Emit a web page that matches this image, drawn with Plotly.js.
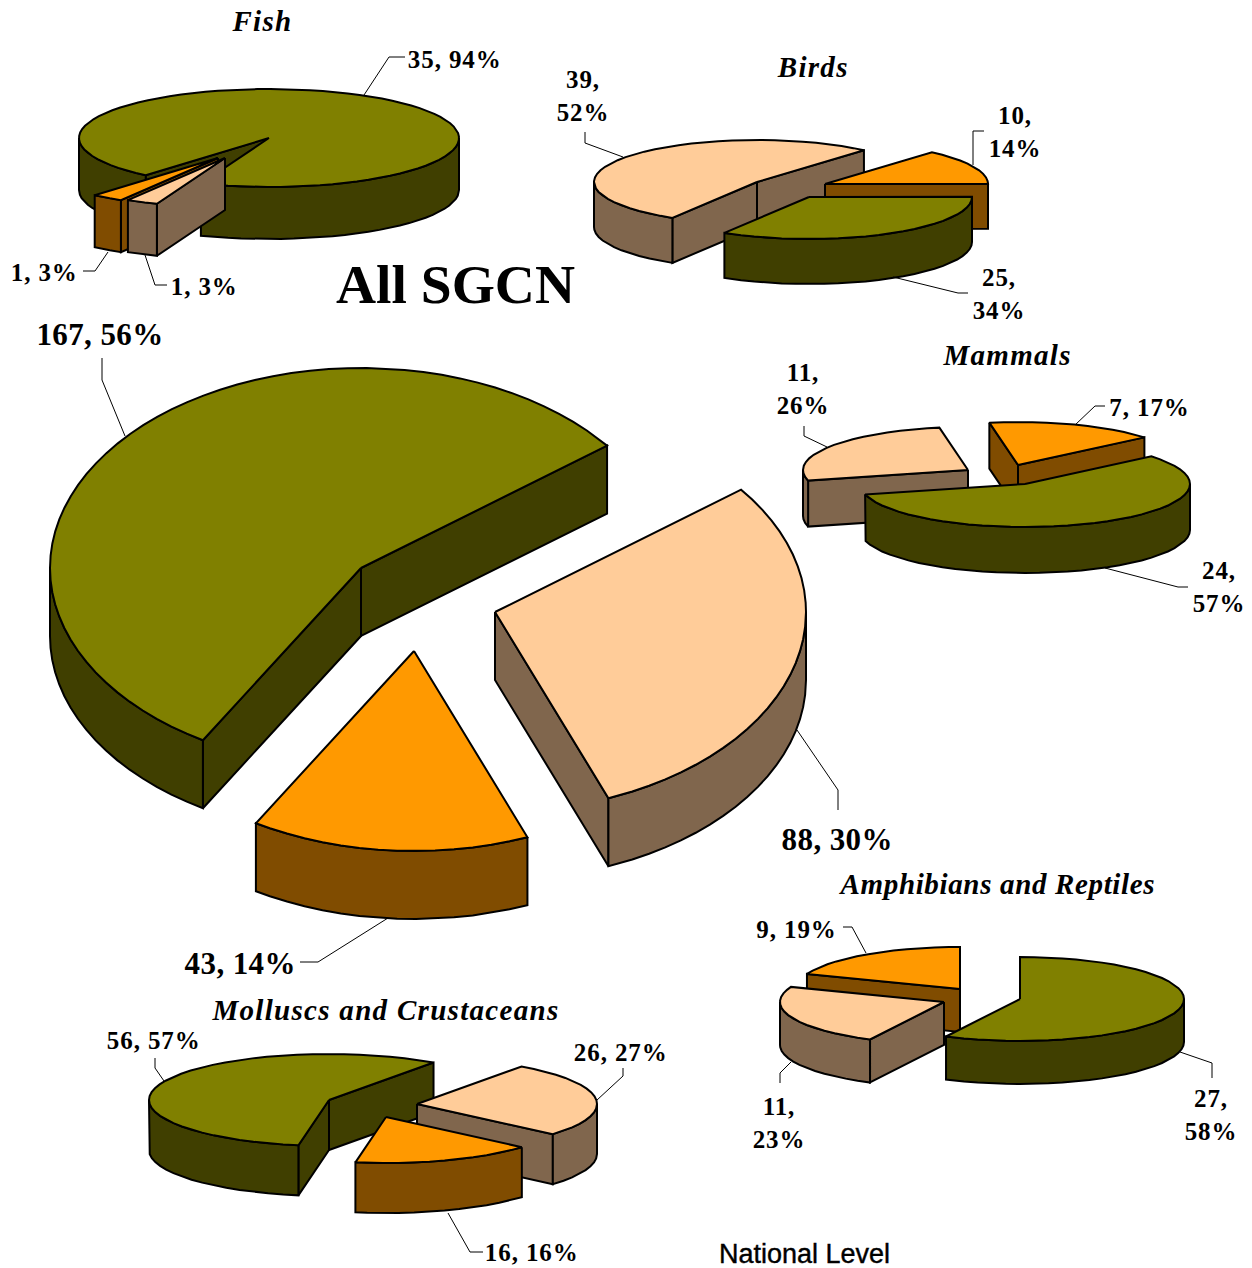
<!DOCTYPE html>
<html>
<head>
<meta charset="utf-8">
<script src="https://cdn.plot.ly/plotly-3.0.1.min.js"></script>
<style>
html,body{margin:0;padding:0;background:#fff}
#chart{width:1252px;height:1268px}
</style>
</head>
<body>
<div id="chart"></div>
<script>
// ---- values, clockwise from each pie's start angle ----
const allKinds = ["peach", "orange", "olive"];
const allValues = [88, 43, 167];
const allPercents = [30, 14, 56];
const fishKinds = ["peach", "orange", "olive"];
const fishValues = [1, 1, 35];
const fishPercents = [3, 3, 94];
const birdKinds = ["orange", "olive", "peach"];
const birdValues = [10, 25, 39];
const birdPercents = [14, 34, 52];
const mammalKinds = ["orange", "olive", "peach"];
const mammalValues = [7, 24, 11];
const mammalPercents = [17, 57, 26];
const amphibianKinds = ["olive", "peach", "orange"];
const amphibianValues = [27, 11, 9];
const amphibianPercents = [58, 23, 19];
const molluscKinds = ["peach", "orange", "olive"];
const molluscValues = [26, 16, 56];
const molluscPercents = [27, 16, 57];

const pieTitles = ["Fish", "Birds", "Mammals", "Amphibians and Reptiles", "Molluscs and Crustaceans"];

// ---- styling and geometry ----
const topColor = {olive:"#808000", orange:"#FF9900", peach:"#FFCC99"};
const sideColor = {olive:"#403F00", orange:"#804C00", peach:"#80664D"};

const pies = [
 {kinds:allKinds, values:allValues, start:37.7, rx:311, ry:200, depth:68, step:3.5,
  apex:{olive:[361,568], peach:[495,612], orange:[414,651]}, order:["olive","peach","orange"]},
 {kinds:fishKinds, values:fishValues, start:249, rx:190, ry:49, depth:52, step:4,
  apex:{olive:[269,138], peach:[225,158], orange:[218,158]}, order:["olive","orange","peach"]},
 {kinds:birdKinds, values:birdValues, start:49, rx:163, ry:42, depth:45, step:5,
  apex:{peach:[757,182], orange:[825,184], olive:[809,197]}, order:["peach","orange","olive"]},
 {kinds:mammalKinds, values:mammalValues, start:100, rx:165, ry:43, depth:46, step:5,
  apex:{peach:[968,470], orange:[1018,465], olive:[1025,484]}, order:["peach","orange","olive"]},
 {kinds:amphibianKinds, values:amphibianValues, start:90, rx:164, ry:42, depth:43, step:5,
  apex:{olive:[1020,999], peach:[944,1002], orange:[960,989]}, order:["orange","olive","peach"]},
 {kinds:molluscKinds, values:molluscValues, start:54.5, rx:180, ry:46, depth:50, step:5,
  apex:{olive:[329,1100], peach:[417,1104], orange:[386,1117]}, order:["olive","peach","orange"]}
];

const rad = d => d*Math.PI/180;
const traces = [];
function poly(xs, ys, fill, name){
  traces.push({type:"scatter", mode:"lines", x:xs, y:ys, fill:"toself", fillcolor:fill,
    line:{color:"#000", width:2, shape:"linear"}, hoverinfo:"skip", showlegend:false, name:name});
}
pies.forEach(p=>{
  const total = p.values.reduce((a,b)=>a+b,0);
  const spans = {};
  let a = p.start;
  p.kinds.forEach((k,i)=>{ const s = p.values[i]/total*360; spans[k]=[a,a-s]; a-=s; });
  p.order.forEach(k=>{
    const [a0,a1] = spans[k];
    const [cx,cy] = p.apex[k];
    const px = d=>cx+p.rx*Math.cos(rad(d));
    const py = d=>cy-p.ry*Math.sin(rad(d));
    const arc=[];
    for(let d=a0; d>a1; d-=p.step) arc.push(d);
    for(let m=Math.ceil(a1/180)*180; m<a0; m+=180) arc.push(m);
    arc.push(a1);
    arc.sort((u,v)=>v-u);
    if(Math.cos(rad(a0))<0) poly([cx,px(a0),px(a0),cx,cx],[cy,py(a0),py(a0)+p.depth,cy+p.depth,cy],sideColor[k],k);
    if(Math.cos(rad(a1))>-1e-9) poly([cx,px(a1),px(a1),cx,cx],[cy,py(a1),py(a1)+p.depth,cy+p.depth,cy],sideColor[k],k);
    let run=[];
    const flush=()=>{
      if(run.length>1){
        const xs=run.map(px), ys=run.map(py);
        const rx=run.slice().reverse().map(px), ry=run.slice().reverse().map(d=>py(d)+p.depth);
        poly(xs.concat(rx,[xs[0]]), ys.concat(ry,[ys[0]]), sideColor[k], k);
      }
      run=[];
    };
    arc.forEach(d=>{ if(Math.sin(rad(d))<=1e-9) run.push(d); else flush(); });
    flush();
    poly([cx].concat(arc.map(px),[cx]), [cy].concat(arc.map(py),[cy]), topColor[k], k);
  });
});

// ---- leader lines ----
const leaders = [
 [[364,95],[389,57],[405,57]], [[108,252],[95,271],[83,271]], [[145,255],[155,285],[167,285]],
 [[623,157],[585,143],[585,132]], [[973,165],[973,131],[984,131]], [[893,277],[958,293],[968,293]],
 [[827,447],[804,436],[804,426]], [[1075,425],[1095,406],[1105,406]], [[1105,568],[1178,587],[1188,587]],
 [[125,436],[102,380],[102,358]], [[797,730],[838,790],[838,810]], [[388,918],[318,962],[300,962]],
 [[866,953],[852,927],[843,927]], [[791,1062],[780,1073],[780,1083]], [[1180,1052],[1212,1063],[1212,1078]],
 [[164,1081],[155,1068],[155,1058]], [[597,1100],[623,1076],[623,1068]], [[448,1213],[470,1252],[483,1252]]
];
leaders.forEach(l=>traces.push({type:"scatter",mode:"lines",x:l.map(q=>q[0]),y:l.map(q=>q[1]),
  line:{color:"#000",width:1},hoverinfo:"skip",showlegend:false}));

// ---- text ----
const serif = "'Liberation Serif','Times New Roman',serif";
const ann=[];
function label(x,y,text,size,opt){
  ann.push(Object.assign({xref:"x",yref:"y",x:x,y:y,text:text,showarrow:false,xanchor:"center",yanchor:"middle",
    font:{family:serif,size:size,color:"#000",weight:700}},opt||{}));
}
const lab=(v,p,br)=>v+","+(br?"<br>":" ")+p+"%";
const S=25;
label(455,59,lab(fishValues[2],fishPercents[2]),S);
label(44,272,lab(fishValues[1],fishPercents[1]),S);
label(204,286,lab(fishValues[0],fishPercents[0]),S);
label(583,96,lab(birdValues[2],birdPercents[2],1),S);
label(1015,132,lab(birdValues[0],birdPercents[0],1),S);
label(999,294,lab(birdValues[1],birdPercents[1],1),S);
label(803,389,lab(mammalValues[2],mammalPercents[2],1),S);
label(1149,407,lab(mammalValues[0],mammalPercents[0]),S);
label(1219,587,lab(mammalValues[1],mammalPercents[1],1),S);
label(796,929,lab(amphibianValues[2],amphibianPercents[2]),S);
label(779,1123,lab(amphibianValues[1],amphibianPercents[1],1),S);
label(1211,1115,lab(amphibianValues[0],amphibianPercents[0],1),S);
label(154,1040,lab(molluscValues[2],molluscPercents[2]),S);
label(621,1052,lab(molluscValues[0],molluscPercents[0]),S);
label(532,1252,lab(molluscValues[1],molluscPercents[1]),S);
label(100,334,lab(allValues[2],allPercents[2]),31);
label(837,839,lab(allValues[0],allPercents[0]),31);
label(240,963,lab(allValues[1],allPercents[1]),31);
label(455,284,"All SGCN",55.5);
const titlePos=[[262,21],[812,67],[1007,355],[997,884],[385,1010]];
pieTitles.forEach((t,i)=>label(titlePos[i][0],titlePos[i][1],t,29,{font:{family:serif,size:29,color:"#000",weight:700,style:"italic"}}));
label(804,1254,"National Level",27,{font:{family:"'Liberation Sans',Arial,sans-serif",size:27,color:"#000"}});

const layout={
  width:1252,height:1268,margin:{l:0,r:0,t:0,b:0},paper_bgcolor:"#fff",plot_bgcolor:"#fff",showlegend:false,
  xaxis:{range:[0,1252],visible:false,fixedrange:true},
  yaxis:{range:[1268,0],visible:false,fixedrange:true},
  annotations:ann
};
Plotly.newPlot("chart",traces,layout,{displayModeBar:false,staticPlot:true}).then(()=>{
  document.querySelectorAll(".annotation-text").forEach(el=>{
    const t=el.textContent;
    if(t==="All SGCN") return;
    if(t==="National Level"){ el.style.stroke="#000"; el.style.strokeWidth="0.4px"; return; }
    if(t==="Amphibians and Reptiles"){ el.style.letterSpacing="0.65px"; return; }
    if(pieTitles.indexOf(t)>=0){ el.style.letterSpacing="1.3px"; return; }
    if(parseFloat(el.style.fontSize)>=30){ el.style.letterSpacing="0.4px"; return; }
    el.style.letterSpacing="0.9px";
  });
});
</script>
</body>
</html>
